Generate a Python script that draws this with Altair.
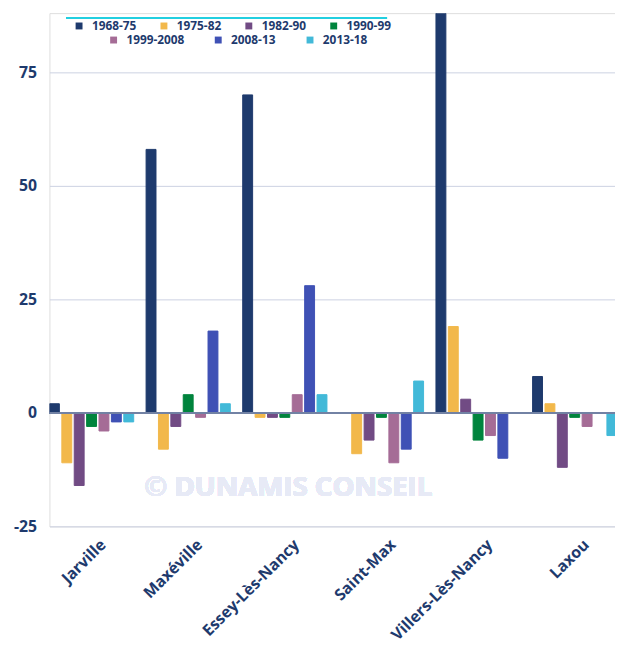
import altair as alt
import pandas as pd

towns = ["Jarville", "Maxéville", "Essey-Lès-Nancy", "Saint-Max", "Villers-Lès-Nancy", "Laxou"]
periods = ["1968-75", "1975-82", "1982-90", "1990-99", "1999-2008", "2008-13", "2013-18"]
colors = ["#1e3a6d", "#f2b84b", "#714b84", "#00843d", "#a56c96", "#3f51b5", "#42b9d8"]

v_1968_75 = [2, 58, 70, None, 88, 8]
v_1975_82 = [-11, -8, -1, -9, 19, 2]
v_1982_90 = [-16, -3, -1, -6, 3, -12]
v_1990_99 = [-3, 4, -1, -1, -6, -1]
v_1999_2008 = [-4, -1, 4, -11, -5, -3]
v_2008_13 = [-2, 18, 28, -8, -10, None]
v_2013_18 = [-2, 2, 4, 7, None, -5]

series = [v_1968_75, v_1975_82, v_1982_90, v_1990_99, v_1999_2008, v_2008_13, v_2013_18]

# second key (trailing space) so that the second legend row is a separate legend
periods_b = [p + " " for p in periods]

rows = []
for p, pb, vals in zip(periods, periods_b, series):
    for t, v in zip(towns, vals):
        if v is not None:
            rows.append({"town": t, "period": p, "period2": pb, "value": v})
df = pd.DataFrame(rows)

navy = "#1e3a6d"
font = "Open Sans"

legend_common = dict(
    orient="none",
    direction="horizontal",
    title=None,
    symbolType="square",
    labelFontSize=12,
    labelFontWeight="bold",
    labelColor=navy,
    labelFont=font,
    labelOffset=7,
    columnPadding=21,
    padding=0,
    labelExpr="trim(datum.label)",
)

bars = alt.Chart(df).mark_bar(clip=True, strokeWidth=1).encode(
    x=alt.X(
        "town:N",
        sort=towns,
        scale=alt.Scale(range=[0, 587.4], paddingInner=0, paddingOuter=0),
        axis=alt.Axis(
            title=None, labelAngle=-45, labelFontSize=16, labelFontWeight="bold",
            labelColor=navy, labelFont=font, domain=False, ticks=False, labelPadding=10,
            grid=False,
        ),
    ),
    xOffset=alt.XOffset(
        "period:N", sort=periods,
        scale=alt.Scale(domain=periods, paddingInner=0.2, paddingOuter=0.5, align=0),
    ),
    y=alt.Y(
        "value:Q",
        scale=alt.Scale(domain=[-25, 88], nice=False, zero=False),
        axis=alt.Axis(
            values=[-25, 0, 25, 50, 75], title=None, labelFontSize=16,
            labelFontWeight="bold", labelColor=navy, labelFont=font, domain=False,
            ticks=False, labelPadding=13, gridColor="#cbd1e2", gridWidth=1,
            labelExpr="'' + datum.value",
        ),
    ),
    fill=alt.Fill(
        "period:N",
        scale=alt.Scale(domain=periods, range=colors),
        legend=alt.Legend(values=periods[:4], legendX=24, legendY=7, columns=4,
                          symbolSize=49, symbolStrokeWidth=0, **legend_common),
    ),
    stroke=alt.Stroke(
        "period2:N",
        scale=alt.Scale(domain=periods_b, range=colors),
        legend=alt.Legend(values=periods_b[4:], legendX=59, legendY=21, columns=3,
                          symbolSize=1, symbolStrokeWidth=6, **legend_common),
    ),
)

zero_rule = alt.Chart(df).mark_rule(color="#7282a4", strokeWidth=1.5).encode(
    y=alt.datum(0)
)

watermark = alt.Chart(df).mark_text(
    text="© DUNAMIS CONSEIL", fontSize=28, fontWeight="bold", color="#e7eaf6", font=font
).encode(x=alt.value(242), y=alt.value(481))

top_rule = alt.Chart(df).mark_rule(color="#22cfe0", strokeWidth=2).encode(
    x=alt.value(17), x2=alt.value(342), y=alt.value(5)
)

chart = alt.layer(watermark, bars, zero_rule, top_rule).properties(
    width=573, height=520,
    autosize=alt.AutoSizeParams(type="none"),
    padding={"left": 42, "top": 1, "right": 0, "bottom": 118},
).configure_view(strokeWidth=0).configure(font=font)

chart.save("out.html", embed_options={"renderer": "svg", "actions": False})
